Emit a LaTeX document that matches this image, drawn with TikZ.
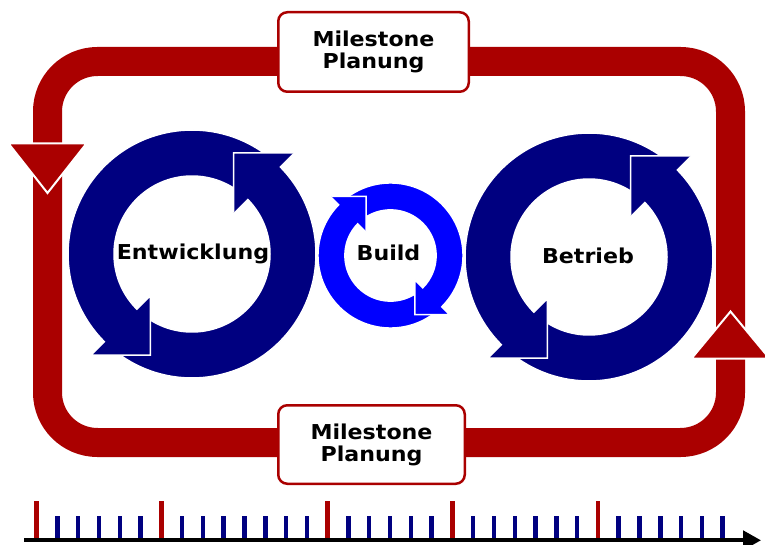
\documentclass[tikz,border=0pt]{standalone}
\usepackage{fontspec}
\newfontfamily\lab{DejaVu Sans}[FakeStretch=1.08]
\usetikzlibrary{arrows.meta}
\definecolor{loopred}{RGB}{170,0,0}
\definecolor{navy}{RGB}{0,0,128}
\definecolor{brightblue}{RGB}{0,0,255}
\newcommand\ringarrows[1]{%
  \path[ringpart,fill=#1] (230:78) -- (230:124) arc[start angle=230,end angle=405,radius=124]
     -- (45:143) -- (67.6:109.4) -- (45:59) -- (45:78) arc[start angle=405,end angle=230,radius=78] -- cycle;
  \path[ringpart,fill=#1] (50:78) -- (50:124) arc[start angle=50,end angle=225,radius=124]
     -- (225:143) -- (247.6:109.4) -- (225:59) -- (225:78) arc[start angle=225,end angle=50,radius=78] -- cycle;
  \path[fill=#1] (45:143) -- (67.6:109.4) -- (45:59) -- cycle;
  \draw[white,line width=1.5pt,line join=miter] (45:143) -- (67.6:109.4) -- (45:59);
}
\tikzset{
  ringpart/.style={draw=white,line width=1.5pt,line join=miter},
  redloop/.style={draw=loopred,line width=29pt,rounded corners=50pt},
  redhead/.style={fill=loopred,draw=white,line width=2pt,line join=miter},
  milebox/.style={draw=loopred,fill=white,line width=2.5pt,rounded corners=9pt,inner sep=0pt,
     align=center,font=\lab\bfseries\fontsize{20.5}{22}\selectfont},
  ringlabel/.style={anchor=base,inner sep=0pt,font=\lab\bfseries\fontsize{20.5}{22}\selectfont},
  timeline/.style={line width=3.8pt,-{Triangle[length=18pt,width=19pt]}},
  redtick/.style={loopred,line width=4.5pt},
  bluetick/.style={navy,line width=4.5pt},
}
\begin{document}
\begin{tikzpicture}[x=1pt,y=1pt]
\useasboundingbox (0,0) rectangle (765,544);
\clip (0,0) rectangle (765,544);
% red planning loop
\draw[redloop] (47.5,101.5) rectangle (730.5,482.5);
\path[redhead] (8.5,400.5) -- (86.5,400.5) -- (47.5,351) -- cycle;
\path[redhead] (691.5,185.5) -- (769.5,185.5) -- (730.5,232.5) -- cycle;
% milestone boxes
\node[milebox,minimum width=190.5pt,minimum height=79.5pt] (mtop) at (373.5,492) {Milestone\\Planung};
\node[milebox,minimum width=186.5pt,minimum height=78.5pt] (mbot) at (371.5,99.5) {Milestone\\Planung};
% circular arrows
\begin{scope}[shift={(192,290)}]
  \ringarrows{navy}
\end{scope}
\begin{scope}[shift={(390.5,288.5)},xscale=-0.585,yscale=0.585]
  \ringarrows{brightblue}
\end{scope}
\begin{scope}[shift={(589,287)}]
  \ringarrows{navy}
\end{scope}
\node[ringlabel] (entw) at (193,284) {Entwicklung};
\node[ringlabel] (build) at (388.5,283.3) {Build};
\node[ringlabel] (betr) at (588,280.7) {Betrieb};
% timeline
\foreach \k in {1,...,33} {
  \draw[bluetick] ({36.6+20.79*\k},3.7) -- ({36.6+20.79*\k},28);
}
\foreach \k in {0,6,14,20,27} {
  \draw[redtick] ({36.6+20.79*\k},3.7) -- ({36.6+20.79*\k},43);
}
\coordinate (tstart) at (24,3.7);
\coordinate (tend) at (761,3.7);
\draw[timeline] (tstart) -- (tend);
\end{tikzpicture}
\end{document}
